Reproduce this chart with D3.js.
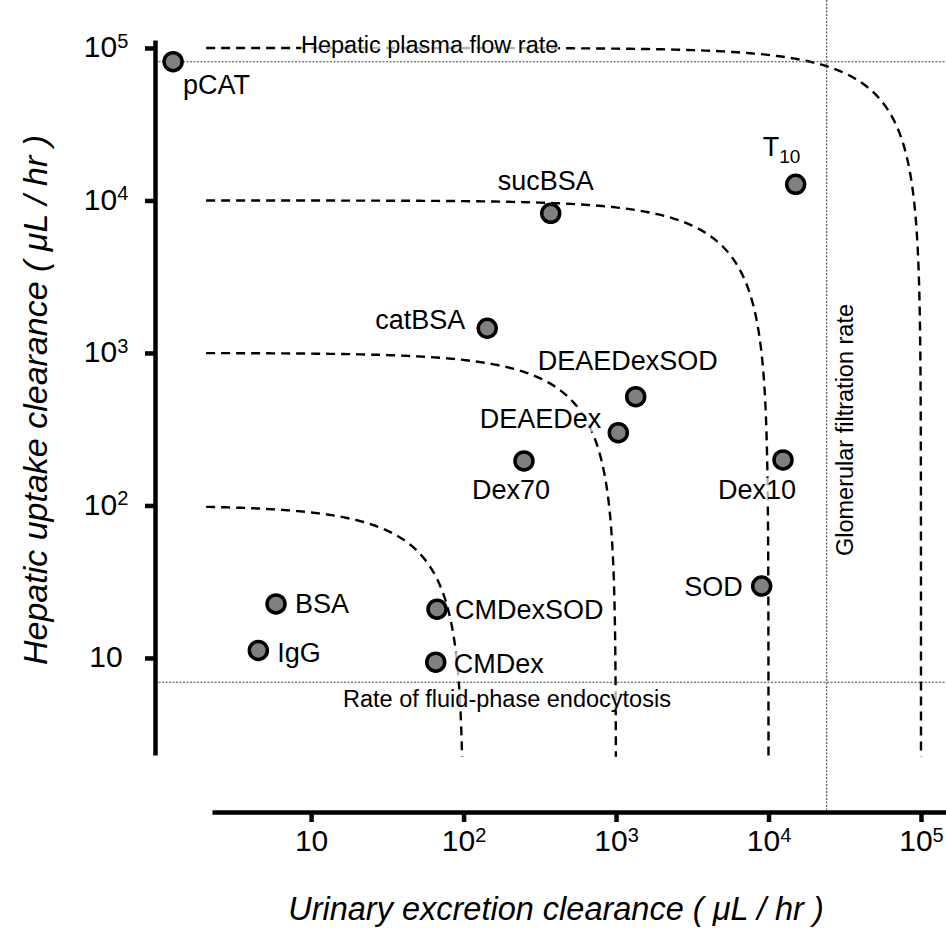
<!DOCTYPE html>
<html>
<head>
<meta charset="utf-8">
<title>Clearance</title>
<script src="https://d3js.org/d3.v7.min.js"></script>
<style>
  body { margin: 0; background: #fff; }
  text { font-family: "Liberation Sans", Arial, sans-serif; fill: #000; }
</style>
</head>
<body>
<script>
// compounds, urinary (x) and hepatic (y) clearances in uL/hr
var names   = ["pCAT", "sucBSA", "T10", "catBSA", "DEAEDexSOD", "DEAEDex", "Dex70", "Dex10", "SOD", "BSA", "IgG", "CMDexSOD", "CMDex"];
var urinary = [1.245, 373, 15070, 143, 1346, 1035, 249, 12450, 9020, 5.89, 4.51, 67, 65.7];
var hepatic = [81300, 8240, 12770, 1452, 517, 300, 196, 199, 29.6, 22.6, 11.2, 20.9, 9.38];

// iso-clearance totals (dashed curves) and reference rates
var isoTotals  = [1e2, 1e3, 1e4, 1e5];
var plasmaFlow = 81300;
var fluidPhase = 6.93;
var gfrRate    = 24080;

var tickValues = [10, 100, 1000, 10000, 100000];
var tickBase   = ["10", "10", "10", "10", "10"];
var tickSup    = ["", "2", "3", "4", "5"];

// label placement (dx, dy from point, anchor)
var labelPos = {
  pCAT: [10, 32, "start"], sucBSA: [-5, -23, "middle"], T10: [-33, -28, "start"],
  catBSA: [-22, 1, "end"], DEAEDexSOD: [-8, -27, "middle"], DEAEDex: [-17, -5, "end"],
  Dex70: [-13, 38, "middle"], Dex10: [-26, 39, "middle"], SOD: [-19, 10, "end"],
  BSA: [19, 9, "start"], IgG: [19, 12, "start"], CMDexSOD: [18, 10, "start"], CMDex: [18, 11, "start"]
};

var W = 946, H = 937;
var svg = d3.select("body").append("svg").attr("width", W).attr("height", H);

var x = d3.scaleLog().domain([2.24, 1.459e5]).range([212, 946]);
var y = d3.scaleLog().domain([2.31, 1.128e5]).range([755, 40]);

// dashed iso-clearance curves: urinary + hepatic = total
function isoCurve(c) {
  var pts = [], n = 150, x0 = 2.05, yEnd = 2.25;
  for (var i = 0; i <= n; i++) { var xv = x0 * Math.pow(c / 2 / x0, i / n); pts.push([xv, c - xv]); }
  for (var j = 1; j <= n; j++) { var yv = (c / 2) * Math.pow(yEnd / (c / 2), j / n); pts.push([c - yv, yv]); }
  return pts;
}
var line = d3.line().x(function(d) { return x(d[0]); }).y(function(d) { return y(d[1]); });
svg.selectAll("path.iso").data(isoTotals).enter().append("path")
  .attr("class", "iso")
  .attr("d", function(c) { return line(isoCurve(c)); })
  .attr("fill", "none").attr("stroke", "#000").attr("stroke-width", 2.4)
  .attr("stroke-dasharray", "9,6");

// reference lines
var dotted = { stroke: "#444", w: 1.1, dash: "2,1.5" };
svg.append("line").attr("x1", 155).attr("x2", W).attr("y1", y(plasmaFlow)).attr("y2", y(plasmaFlow))
  .attr("stroke", dotted.stroke).attr("stroke-width", dotted.w).attr("stroke-dasharray", dotted.dash);
svg.append("line").attr("x1", 155).attr("x2", W).attr("y1", y(fluidPhase)).attr("y2", y(fluidPhase))
  .attr("stroke", dotted.stroke).attr("stroke-width", dotted.w).attr("stroke-dasharray", dotted.dash);
svg.append("line").attr("x1", x(gfrRate)).attr("x2", x(gfrRate)).attr("y1", 0).attr("y2", 810)
  .attr("stroke", dotted.stroke).attr("stroke-width", dotted.w).attr("stroke-dasharray", dotted.dash);

// text with a faint white box behind it
function boxed(t) {
  var b = t.node().getBBox();
  var p = t.node().parentNode;
  d3.select(p).insert("rect", function() { return t.node(); })
    .attr("x", b.x).attr("y", b.y + 3).attr("width", b.width).attr("height", b.height - 5)
    .attr("fill", "#fff").attr("fill-opacity", 0.7)
    .attr("transform", t.attr("transform"));
}

var refLabels = svg.append("g");
boxed(refLabels.append("text").attr("x", 301).attr("y", y(plasmaFlow) - 9)
  .attr("font-size", 23.5).text("Hepatic plasma flow rate"));
boxed(refLabels.append("text").attr("x", 343).attr("y", y(fluidPhase) + 25)
  .attr("font-size", 23.5).text("Rate of fluid-phase endocytosis"));
boxed(refLabels.append("text").attr("transform", "translate(" + (x(gfrRate) + 26) + ",430) rotate(-90)")
  .attr("text-anchor", "middle").attr("font-size", 23.5).text("Glomerular filtration rate"));

// point labels
var labels = svg.append("g");
names.forEach(function(n, i) {
  var lp = labelPos[n];
  var t = labels.append("text")
    .attr("x", x(urinary[i]) + lp[0]).attr("y", y(hepatic[i]) + lp[1])
    .attr("text-anchor", lp[2]).attr("font-size", 27);
  if (n === "T10") {
    t.append("tspan").text("T");
    t.append("tspan").attr("dy", 7).attr("font-size", 19).text("10");
  } else {
    t.text(n);
  }
  boxed(t);
});

// points
svg.append("g").selectAll("circle").data(names).enter().append("circle")
  .attr("cx", function(d, i) { return x(urinary[i]); })
  .attr("cy", function(d, i) { return y(hepatic[i]); })
  .attr("r", 9)
  .attr("fill", "#808080").attr("stroke", "#000").attr("stroke-width", 3.5);

// axes
function supLabels(g) {
  g.selectAll(".tick text").each(function(d, i) {
    var t = d3.select(this).text(null).attr("font-size", 30).attr("fill", "#000")
      .attr("font-family", "Liberation Sans, Arial, sans-serif");
    t.append("tspan").text(tickBase[i]);
    if (tickSup[i]) t.append("tspan").attr("dy", -9.5).attr("font-size", 20).text(tickSup[i]);
  });
  g.select(".domain").attr("stroke-width", 4.5);
  g.selectAll(".tick line").attr("stroke-width", 4.5);
}

var gx = svg.append("g").attr("transform", "translate(0,812)")
  .call(d3.axisBottom(x).tickValues(tickValues).tickSize(10).tickSizeOuter(0).tickPadding(8));
supLabels(gx);

var gy = svg.append("g").attr("transform", "translate(155,0)")
  .call(d3.axisLeft(y).tickValues(tickValues).tickSize(10).tickSizeOuter(0));
supLabels(gy);
gy.selectAll(".tick text").attr("text-anchor", "middle").attr("x", -49).attr("dy", "0.3em");

// axis titles
svg.append("text").attr("x", 556).attr("y", 920).attr("text-anchor", "middle")
  .attr("font-size", 32.5).attr("font-style", "italic")
  .text("Urinary excretion clearance ( \u03bcL / hr )");
svg.append("text").attr("transform", "translate(47,400) rotate(-90)").attr("text-anchor", "middle")
  .attr("font-size", 34).attr("font-style", "italic")
  .text("Hepatic uptake clearance ( \u03bcL / hr )");
</script>
</body>
</html>
